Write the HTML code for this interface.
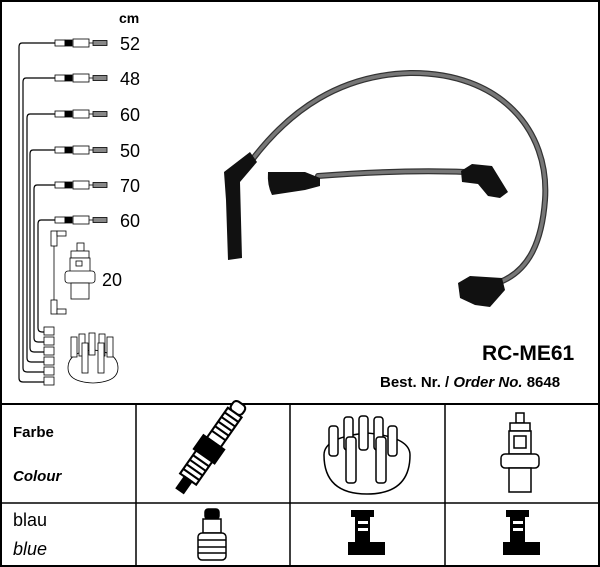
<!DOCTYPE html>
<html><head><style>
body{margin:0;background:#fff;}
.t{font-family:"Liberation Sans",sans-serif;}
</style></head><body>
<svg width="600" height="567" xmlns="http://www.w3.org/2000/svg" style="display:block">
<rect x="1" y="1" width="598" height="565" fill="#fff" stroke="#000" stroke-width="2"/>
<line x1="0" y1="404" x2="600" y2="404" stroke="#000" stroke-width="2"/>
<line x1="0" y1="503" x2="600" y2="503" stroke="#000" stroke-width="1.5"/>
<line x1="136" y1="404" x2="136" y2="567" stroke="#000" stroke-width="1.5"/>
<line x1="290" y1="404" x2="290" y2="567" stroke="#000" stroke-width="1.5"/>
<line x1="445" y1="404" x2="445" y2="567" stroke="#000" stroke-width="1.5"/>

<g fill="none" stroke="#000" stroke-width="1.2">
<path d="M55,43 H22 Q19,43 19,47 V378 Q19,382 23,382 H44"/>
<path d="M55,78 H26 Q23,78 23,82 V368 Q23,372 27,372 H44"/>
<path d="M55,114 H30 Q27,114 27,118 V358 Q27,362 31,362 H44"/>
<path d="M55,150 H33 Q30,150 30,154 V348 Q30,352 34,352 H44"/>
<path d="M55,185 H37 Q34,185 34,189 V338 Q34,342 38,342 H44"/>
<path d="M55,220 H41 Q38,220 38,224 V328 Q38,332 42,332 H44"/>
</g>
<g stroke="#000" stroke-width="0.8" fill="#fff">
<g id="c"><rect x="55" y="40" width="10" height="6"/><rect x="65" y="40" width="7" height="6" fill="#000"/><rect x="73" y="39" width="16" height="8"/><line x1="89" y1="43" x2="93" y2="43"/><rect x="93" y="40.5" width="14" height="5" fill="#888"/></g>
<use href="#c" y="35"/><use href="#c" y="71"/><use href="#c" y="107"/><use href="#c" y="142"/><use href="#c" y="177"/>
<rect x="44" y="327" width="10" height="8"/><rect x="44" y="337" width="10" height="8"/><rect x="44" y="347" width="10" height="8"/><rect x="44" y="357" width="10" height="8"/><rect x="44" y="367" width="10" height="8"/><rect x="44" y="377" width="10" height="8"/>
<rect x="51" y="231" width="6" height="15"/><rect x="57" y="231" width="9" height="5"/>
<line x1="54" y1="246" x2="54" y2="300"/>
<rect x="51" y="300" width="6" height="14"/><rect x="57" y="309" width="9" height="5"/>
<rect x="77" y="243" width="7" height="8"/><rect x="71" y="251" width="18" height="7"/>
<rect x="70" y="258" width="20" height="14"/><rect x="76" y="261" width="6" height="5"/>
<rect x="65" y="271" width="30" height="12" rx="3"/>
<rect x="71" y="283" width="18" height="16"/>
<path d="M68,368 Q68,352 93,350 Q118,352 118,368 Q118,382 93,383 Q68,382 68,368Z"/>
<rect x="71" y="337" width="6" height="20"/><rect x="79" y="334" width="6" height="22"/><rect x="89" y="333" width="6" height="22"/><rect x="99" y="334" width="6" height="22"/><rect x="107" y="337" width="6" height="20"/>
<rect x="82" y="343" width="6" height="30"/><rect x="98" y="343" width="6" height="30"/>
</g>
<g class="t" font-size="18" fill="#000">
<text x="119" y="23" font-size="14" font-weight="bold">cm</text>
<text x="120" y="50">52</text><text x="120" y="85">48</text><text x="120" y="121">60</text>
<text x="120" y="157">50</text><text x="120" y="192">70</text><text x="120" y="227">60</text>
<text x="102" y="286">20</text>
</g>

<g fill="none" stroke-linecap="round">
<path d="M252,160 C290,110 340,75 410,73 C500,72 550,130 545,200 C542,240 530,270 500,282" stroke="#333" stroke-width="6"/>
<path d="M252,160 C290,110 340,75 410,73 C500,72 550,130 545,200 C542,240 530,270 500,282" stroke="#777" stroke-width="3.5"/>
<path d="M318,176 C370,172 420,170 465,172" stroke="#333" stroke-width="6"/>
<path d="M318,176 C370,172 420,170 465,172" stroke="#777" stroke-width="3.5"/>
</g>
<g fill="#111">
<path d="M224,172 L250,152 L257,162 L240,182 L242,258 L228,260 L226,200Z"/>
<path d="M268,172 L305,172 L320,178 L320,186 L305,190 L272,195 Q267,185 268,172Z"/>
<path d="M461,171 L472,164 L492,166 L508,192 L500,198 L488,196 L478,184 L462,182Z"/>
<path d="M458,283 L470,276 L502,278 L505,290 L490,307 L475,305 L460,298Z"/>
</g>

<g class="t" font-weight="bold" fill="#000">
<text x="482" y="360" font-size="21">RC-ME61</text>
<text x="380" y="387" font-size="15">Best. Nr. / <tspan font-style="italic">Order No.</tspan> 8648</text>
<text x="13" y="437" font-size="15">Farbe</text>
<text x="13" y="481" font-size="15" font-style="italic">Colour</text>
</g>
<g class="t" fill="#000" font-size="18">
<text x="13" y="526">blau</text>
<text x="13" y="555" font-style="italic">blue</text>
</g>

<g stroke="#000" stroke-width="1.5" fill="#fff">
<g transform="translate(205,455) rotate(35) scale(1.4)">
<rect x="-5" y="-45" width="10" height="8" rx="3"/><rect x="-6" y="-37" width="12" height="26"/>
<path d="M-6,-33 h12 M-6,-29 h12 M-6,-25 h12 M-6,-21 h12 M-6,-17 h12"/>
<rect x="-9" y="-11" width="18" height="12" fill="#000"/><rect x="-7" y="1" width="14" height="20"/>
<path d="M-7,5 h14 M-7,9 h14 M-7,13 h14 M-7,17 h14"/><rect x="-3" y="21" width="6" height="10" fill="#000"/>
</g>
<path d="M324,455 Q324,437 367,433 Q410,437 410,455 Q410,494 367,494 Q324,494 324,455Z"/>
<rect x="329" y="426" width="9" height="30" rx="3"/><rect x="344" y="417" width="9" height="33" rx="3"/><rect x="359" y="416" width="9" height="34" rx="3"/><rect x="374" y="417" width="9" height="33" rx="3"/><rect x="388" y="426" width="9" height="30" rx="3"/>
<rect x="346" y="437" width="10" height="46" rx="3"/><rect x="376" y="437" width="10" height="46" rx="3"/>
<rect x="516" y="413" width="8" height="10"/><rect x="510" y="423" width="20" height="8"/>
<rect x="509" y="431" width="22" height="23"/><rect x="514" y="436" width="12" height="12"/>
<rect x="501" y="454" width="38" height="14" rx="4"/>
<rect x="509" y="468" width="22" height="24"/>
<rect x="205" y="509" width="14" height="10" rx="3" fill="#000"/><rect x="203" y="519" width="18" height="14"/>
<rect x="198" y="533" width="28" height="27" rx="4"/>
<path d="M198,540 h28 M198,547 h28 M198,553 h28"/>
</g>
<g fill="#000">
<path d="M351,510 h23 v7 h-4 v25 h15 v13 h-37 v-13 h7 v-25 h-4z"/>
<path d="M506,510 h23 v7 h-4 v25 h15 v13 h-37 v-13 h7 v-25 h-4z"/>
</g>
<g fill="#fff"><rect x="358" y="521" width="10" height="3"/><rect x="358" y="528" width="10" height="3"/><rect x="513" y="521" width="10" height="3"/><rect x="513" y="528" width="10" height="3"/></g>
</svg>
</body></html>
